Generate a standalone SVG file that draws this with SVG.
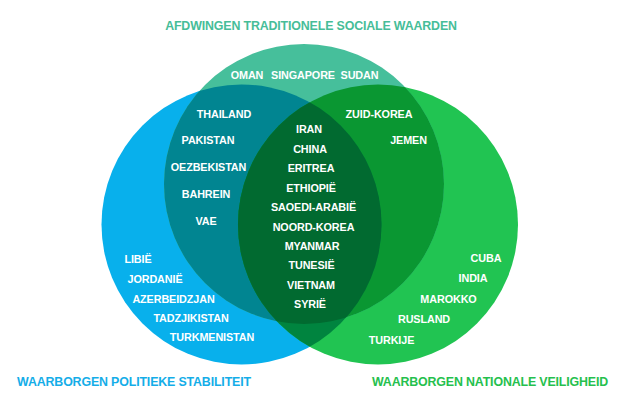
<svg xmlns="http://www.w3.org/2000/svg" width="620" height="400" viewBox="0 0 620 400">
<style>
.lbl{font-family:"Liberation Sans",Arial,sans-serif;font-weight:bold;font-size:10.8px;letter-spacing:-0.1px;fill:#ffffff;text-anchor:middle}
.ttl{font-family:"Liberation Sans",Arial,sans-serif;font-weight:bold;font-size:12.4px;letter-spacing:-0.15px;text-anchor:middle}
</style>
<defs>
<clipPath id="cT"><circle cx="304" cy="184" r="140"/></clipPath>
<clipPath id="cL"><circle cx="241.5" cy="224.5" r="140"/></clipPath>
<clipPath id="cR"><circle cx="378" cy="224.5" r="140"/></clipPath>
</defs>
<rect width="620" height="400" fill="#ffffff"/>
<g id="set-left"><circle cx="241.5" cy="224.5" r="140" fill="#08b0ec"/></g>
<g id="set-right"><circle cx="378" cy="224.5" r="140" fill="#21c452"/></g>
<g id="set-top"><circle cx="304" cy="184" r="140" fill="#46bf9b"/></g>
<g id="overlap-top-left"><circle cx="241.5" cy="224.5" r="140" fill="#018591" clip-path="url(#cT)"/></g>
<g id="overlap-top-right"><circle cx="378" cy="224.5" r="140" fill="#0a9732" clip-path="url(#cT)"/></g>
<g id="overlap-left-right"><circle cx="241.5" cy="224.5" r="140" fill="#00843f" clip-path="url(#cR)"/></g>
<g id="overlap-all" clip-path="url(#cT)"><circle cx="241.5" cy="224.5" r="140" fill="#016a30" clip-path="url(#cR)"/></g>
<g id="connectors"></g>
<g id="titles">
<text class="ttl" x="311" y="30" fill="#46bd98">AFDWINGEN TRADITIONELE SOCIALE WAARDEN</text>
<text class="ttl" x="134" y="386" fill="#14ade8">WAARBORGEN POLITIEKE STABILITEIT</text>
<text class="ttl" x="490" y="386" fill="#25c04d">WAARBORGEN NATIONALE VEILIGHEID</text>
</g>
<g id="top-only">
<text class="lbl" x="247" y="79">OMAN</text>
<text class="lbl" x="303" y="79">SINGAPORE</text>
<text class="lbl" x="359.5" y="79">SUDAN</text>
</g>
<g id="top-left">
<text class="lbl" x="224" y="118">THAILAND</text>
<text class="lbl" x="208" y="144">PAKISTAN</text>
<text class="lbl" x="208.5" y="171">OEZBEKISTAN</text>
<text class="lbl" x="206" y="198">BAHREIN</text>
<text class="lbl" x="206" y="225">VAE</text>
</g>
<g id="top-right">
<text class="lbl" x="379" y="118">ZUID-KOREA</text>
<text class="lbl" x="408.5" y="144">JEMEN</text>
</g>
<g id="all-three">
<text class="lbl" x="309" y="133">IRAN</text>
<text class="lbl" x="310" y="153">CHINA</text>
<text class="lbl" x="311" y="172">ERITREA</text>
<text class="lbl" x="311" y="191.5">ETHIOPIË</text>
<text class="lbl" x="313.5" y="211">SAOEDI-ARABIË</text>
<text class="lbl" x="313.5" y="230.5">NOORD-KOREA</text>
<text class="lbl" x="312" y="250">MYANMAR</text>
<text class="lbl" x="311.5" y="269">TUNESIË</text>
<text class="lbl" x="311" y="289">VIETNAM</text>
<text class="lbl" x="310" y="308">SYRIË</text>
</g>
<g id="left-only">
<text class="lbl" x="138" y="263">LIBIË</text>
<text class="lbl" x="155" y="283">JORDANIË</text>
<text class="lbl" x="173.5" y="302.5">AZERBEIDZJAN</text>
<text class="lbl" x="191" y="322">TADZJIKISTAN</text>
<text class="lbl" x="212" y="341">TURKMENISTAN</text>
</g>
<g id="right-only">
<text class="lbl" x="486" y="261.5">CUBA</text>
<text class="lbl" x="473" y="282">INDIA</text>
<text class="lbl" x="448.5" y="302.5">MAROKKO</text>
<text class="lbl" x="424" y="323">RUSLAND</text>
<text class="lbl" x="391.5" y="343.5">TURKIJE</text>
</g>
</svg>
